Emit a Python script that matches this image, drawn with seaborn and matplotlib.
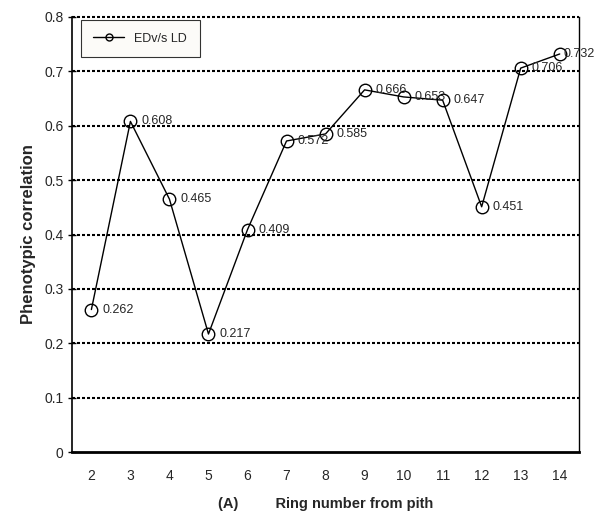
import matplotlib
matplotlib.use("Agg")
import matplotlib.pyplot as plt
import pandas as pd
import seaborn as sns

# data
rings = [2, 3, 4, 5, 6, 7, 8, 9, 10, 11, 12, 13, 14]
corr = [0.262, 0.608, 0.465, 0.217, 0.409, 0.572, 0.585, 0.666, 0.653, 0.647, 0.451, 0.706, 0.732]
series_name = "EDv/s LD"

df = pd.DataFrame({"ring": rings, "corr": corr})

sns.set_style("white")
plt.rcParams["font.family"] = ["Liberation Sans", "DejaVu Sans"]

fig = plt.figure(figsize=(5.99, 5.15), dpi=100)
ax = fig.add_axes([0.120, 0.1223, 0.847, 0.8447])

# dotted horizontal grid like the excel original
for yv in [0.1, 0.2, 0.3, 0.4, 0.5, 0.6, 0.7, 0.8]:
    ax.axhline(yv, color="black", lw=1.5, linestyle=(0, (1.45, 0.95)), zorder=1, clip_on=False)

sns.lineplot(data=df, x="ring", y="corr", ax=ax, color="black", lw=1,
             marker="o", markersize=9, markerfacecolor="none",
             markeredgecolor="black", markeredgewidth=1, label=series_name, zorder=3)

# value labels next to the points (last one squeezed in like excel did)
for x, y in zip(rings, corr):
    dx = 3 if x == rings[-1] else 8
    ax.annotate(f"{y:.3f}", (x, y), xytext=(dx, 0), textcoords="offset points",
                va="center", ha="left", fontsize=9, zorder=4)

ax.set_xlim(1.5, 14.5)
ax.set_ylim(0, 0.8)
ax.set_xticks(rings)
ax.set_xticks([r + 0.5 for r in [1] + rings], minor=True)
ax.tick_params(axis="x", which="major", length=0, pad=12, labelsize=10)
ax.tick_params(axis="x", which="minor", length=4, width=1, direction="out", color="black")
ax.set_yticks([0, 0.1, 0.2, 0.3, 0.4, 0.5, 0.6, 0.7, 0.8])
ax.set_yticklabels(["0", "0.1", "0.2", "0.3", "0.4", "0.5", "0.6", "0.7", "0.8"])
ax.tick_params(axis="y", length=6, width=1, direction="inout", color="black",
               labelsize=10, pad=3, left=True)

for side in ["left", "bottom", "right"]:
    ax.spines[side].set_color("black")
ax.spines["left"].set_linewidth(1.2)
ax.spines["bottom"].set_linewidth(2)
ax.spines["right"].set_linewidth(1)
ax.spines["top"].set_visible(False)

ax.set_xlabel("(A)         Ring number from pith", fontweight="bold", fontsize=10.5, labelpad=10)
ax.set_ylabel("Phenotypic correlation", fontweight="bold", fontsize=12, labelpad=6)

leg = ax.legend(loc="upper left", bbox_to_anchor=(0.017, 0.993), fontsize=9,
                frameon=True, fancybox=False, borderpad=1.0, handlelength=2.5,
                borderaxespad=0)
leg.get_frame().set_edgecolor("black")
leg.get_frame().set_facecolor("#fcfbf7")
leg.get_frame().set_linewidth(0.8)
for h in leg.legend_handles:
    h.set_markersize(5)

fig.savefig("out.png", dpi=100)
